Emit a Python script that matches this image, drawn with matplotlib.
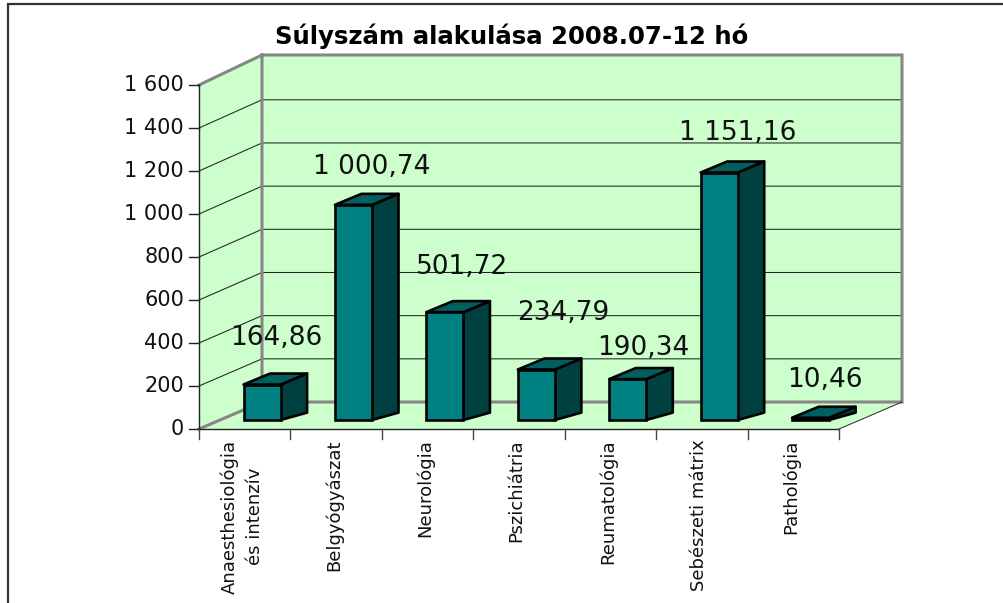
import matplotlib
matplotlib.use("Agg")
import matplotlib.pyplot as plt
from matplotlib.patches import Polygon

# datos
categorias = ["Anaesthesiológia\nés intenzív", "Belgyógyászat", "Neurológia",
              "Pszichiátria", "Reumatológia", "Sebészeti mátrix", "Pathológia"]
valores = [164.86, 1000.74, 501.72, 234.79, 190.34, 1151.16, 10.46]
etiquetas = ["164,86", "1 000,74", "501,72", "234,79", "190,34", "1 151,16", "10,46"]
ticks_y = [0, 200, 400, 600, 800, 1000, 1200, 1400, 1600]
ticks_txt = ["0", "200", "400", "600", "800", "1 000", "1 200", "1 400", "1 600"]
titulo = "Súlyszám alakulása 2008.07-12 hó"

# desplazamiento de cada etiqueta en pixeles respecto al centro de la barra
desp_x = [13, 17, 16, 26, 15, 18, 13]
desp_y = [29, 20, 27, 39, 13, 22, 20]

W, H = 1004, 603
GRIS = "#868686"
VERDE = "#CCFFCC"
FRENTE, ARRIBA, LADO = "#008080", "#006060", "#004040"

fig = plt.figure(figsize=(W / 100, H / 100), dpi=100)
fig.patches.append(plt.Rectangle((8.5 / W, -0.1), 1.2, 1.1 - 4.5 / H, transform=fig.transFigure,
                                 fc="none", ec="#333333", lw=1.6))

# el plano frontal del grafico son los ejes
ax = fig.add_axes([199 / W, 1 - 429 / H, 640 / W, 344 / H])
ax.set_xlim(0, len(categorias))
ax.set_ylim(0, 1600)
ax.axis("off")

PX_X = 640 / 7
PX_Y = 344 / 1600
PROF_X = 63 / PX_X
PROF_Y = 27 / PX_Y


def fondo(x, y, esc=1.004):
    # pasa un punto del plano frontal a la pared del fondo
    return x + PROF_X, y * esc + PROF_Y


def prisma(x0, x1, v):
    # barra 3D: sube del suelo a un tercio de la profundidad
    dx1, dy1 = 21 / PX_X, 9 / PX_Y
    dx2, dy2 = 26.5 / PX_X, 11 / PX_Y
    x0, x1 = x0 + dx1, x1 + dx1
    b, t = dy1, dy1 + v
    est = dict(ec="black", lw=1.9, joinstyle="round", clip_on=False)
    ax.add_patch(Polygon([(x1, b), (x1 + dx2, b + dy2 - 0.4 * dy1), (x1 + dx2, t + dy2), (x1, t)],
                         fc=LADO, zorder=5, **est))
    ax.add_patch(Polygon([(x0, t), (x1, t), (x1 + dx2, t + dy2), (x0 + dx2, t + dy2)],
                         fc=ARRIBA, zorder=5, **est))
    ax.bar((x0 + x1) / 2, v, x1 - x0, bottom=b, color=FRENTE, ec="black", lw=1.9, zorder=6, clip_on=False)


n = len(categorias)
ymax = ticks_y[-1]

# paredes y suelo
xa, ya = fondo(0, 0)
xb, yb = fondo(n, 0)
xc, yc = fondo(0, ymax, 347 / 344)
xd, yd = fondo(n, ymax, 347 / 344)
ax.add_patch(Polygon([(xa, ya), (xb, yb), (xd, yd), (xc, yc)], fc=VERDE, ec="none", clip_on=False, zorder=1))
ax.add_patch(Polygon([(0, 0), (xa, ya), (xc, yc), (0, ymax)], fc=VERDE, ec="none", clip_on=False, zorder=1))
ax.add_patch(Polygon([(0, 0), (n, 0), (xb, yb), (xa, ya)], fc=VERDE, ec="none", clip_on=False, zorder=1))

# rejilla
for v in ticks_y[1:-1]:
    xf, yf = fondo(0, v)
    xg, yg = fondo(n, v)
    ax.plot([0, xf, xg], [v, yf, yg], color="#222222", lw=0.75, clip_on=False, zorder=2)

# bordes grises
ax.plot([0, xc, xd, xb, xa, xc], [ymax, yc, yd, yb, ya, yc], color=GRIS, lw=2.2, clip_on=False, zorder=3,
        solid_joinstyle="miter")
ax.plot([0, xa], [0, ya], color=GRIS, lw=2.2, clip_on=False, zorder=3)
ax.plot([n, xb], [0, yb], color="#333333", lw=0.75, clip_on=False, zorder=3)

# ejes frontales y marcas
ax.plot([0, 0, n], [ymax, 0, 0], color="#222222", lw=1.0, clip_on=False, zorder=4)
for v, t in zip(ticks_y, ticks_txt):
    ax.plot([-10 / PX_X, 0], [v, v], color="#222222", lw=1.0, clip_on=False, zorder=4)
    ax.text(-15 / PX_X, v, t, ha="right", va="center", fontsize=15, color="#111111")
for i in range(n + 1):
    ax.plot([i, i], [0, -10 / PX_Y], color="#444444", lw=1.0, clip_on=False, zorder=4)

# barras
ancho = 0.405
for i, v in enumerate(valores):
    x0 = i + 0.5 - ancho / 2 - 0.04
    prisma(x0, x0 + ancho, v)

# etiquetas de datos
for i, v in enumerate(valores):
    xc_b = i + 0.5 - 0.03 + 21 / PX_X
    ytop = v + 20 / PX_Y
    ax.annotate(etiquetas[i], (xc_b, ytop), xytext=(desp_x[i], desp_y[i]), textcoords="offset pixels",
                ha="center", va="baseline", fontsize=19, color="#111111", zorder=8, annotation_clip=False)

# etiquetas del eje x
for i, c in enumerate(categorias):
    ax.text(i + 0.5 - 2.5 / PX_X, -10 / PX_Y - 2, c, rotation=90, ha="center", va="top", fontsize=13,
            color="#111111", multialignment="center", linespacing=1.55)

fig.text(512 / W, 1 - 36 / H, titulo, ha="center", va="center", fontsize=17.6, fontweight="bold", color="black")

fig.savefig("out.png", dpi=100)
